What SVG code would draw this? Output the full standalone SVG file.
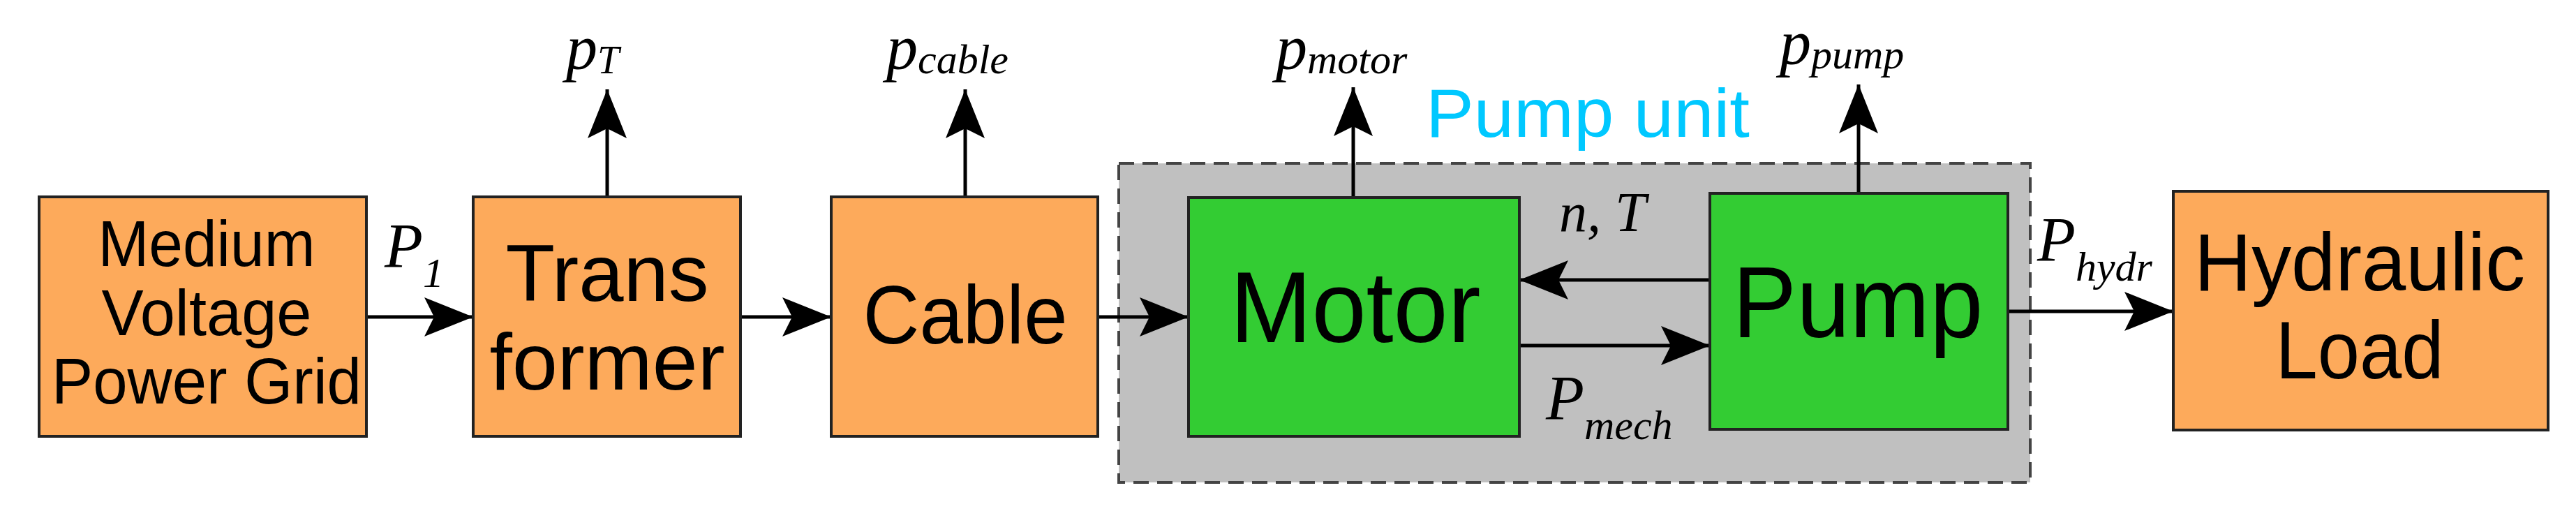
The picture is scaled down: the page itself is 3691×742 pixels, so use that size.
<svg xmlns="http://www.w3.org/2000/svg" width="3691" height="742" viewBox="0 0 3691 742">
<style>
.o{fill:#fdaa5b;stroke:#222;stroke-width:4}
.g{fill:#33cc33;stroke:#222;stroke-width:4}
.t{font-family:"Liberation Sans",Arial,sans-serif;fill:#000;text-anchor:middle}
.m{font-family:"Liberation Serif","Times New Roman",serif;font-style:italic;fill:#000}
.c{stroke:#000;stroke-width:5;fill:none;marker-end:url(#ah)}
</style>
<defs>
<marker id="ah" markerUnits="userSpaceOnUse" markerWidth="72" markerHeight="60" refX="70" refY="30" orient="auto">
<path d="M0,2 L70,30 L0,58 L14,30 Z" fill="#000"/>
</marker>
</defs>
<g id="pumpunit">
<rect x="1603" y="234" width="1306" height="457" fill="#c0c0c0" stroke="#444" stroke-width="4" stroke-dasharray="22,12"/>
<text class="t" x="2275" y="196" font-size="98" fill="#00c8ff" style="fill:#00c8ff" textLength="464" lengthAdjust="spacingAndGlyphs">Pump unit</text>
</g>
<g id="connectors">
<line class="c" x1="525" y1="454" x2="678" y2="454"/>
<line class="c" x1="1061" y1="454" x2="1191" y2="454"/>
<line class="c" x1="1573" y1="454" x2="1703" y2="454"/>
<line class="c" x1="870" y1="282" x2="870" y2="128"/>
<line class="c" x1="1383" y1="282" x2="1383" y2="128"/>
<line class="c" x1="1939" y1="283" x2="1939" y2="125"/>
<line class="c" x1="2663" y1="277" x2="2663" y2="121"/>
<line class="c" x1="2450" y1="401" x2="2177" y2="401"/>
<line class="c" x1="2177" y1="495" x2="2450" y2="495"/>
<line class="c" x1="2877" y1="446" x2="3114" y2="446"/>
</g>
<g id="grid">
<rect class="o" x="56" y="282" width="469" height="343"/>
<text class="t" x="296" y="381" font-size="92" textLength="311" lengthAdjust="spacingAndGlyphs">Medium</text>
<text class="t" x="296" y="480" font-size="92" textLength="301" lengthAdjust="spacingAndGlyphs">Voltage</text>
<text class="t" x="296" y="578" font-size="92" textLength="444" lengthAdjust="spacingAndGlyphs">Power Grid</text>
</g>
<g id="transformer">
<rect class="o" x="678" y="282" width="383" height="343"/>
<text class="t" x="870" y="431" font-size="115" textLength="291" lengthAdjust="spacingAndGlyphs">Trans</text>
<text class="t" x="870" y="558" font-size="115" textLength="337" lengthAdjust="spacingAndGlyphs">former</text>
</g>
<g id="cable">
<rect class="o" x="1191" y="282" width="382" height="343"/>
<text class="t" x="1383" y="492" font-size="118" textLength="293" lengthAdjust="spacingAndGlyphs">Cable</text>
</g>
<g id="motor">
<rect class="g" x="1703" y="283" width="474" height="342"/>
<text class="t" x="1942" y="490" font-size="145" textLength="359" lengthAdjust="spacingAndGlyphs">Motor</text>
</g>
<g id="pump">
<rect class="g" x="2450" y="277" width="427" height="338"/>
<text class="t" x="2662" y="483" font-size="145" textLength="359" lengthAdjust="spacingAndGlyphs">Pump</text>
</g>
<g id="load">
<rect class="o" x="3114" y="274" width="537" height="342"/>
<text class="t" x="3381" y="416" font-size="117" textLength="474" lengthAdjust="spacingAndGlyphs">Hydraulic</text>
<text class="t" x="3381" y="542" font-size="117" textLength="241" lengthAdjust="spacingAndGlyphs">Load</text>
</g>
<g id="labels">
<text class="m" x="551" y="383" font-size="90">P<tspan font-size="60" dy="28">1</tspan></text>
<text class="m" x="811" y="99" font-size="90">p<tspan font-size="56" dy="6">T</tspan></text>
<text class="m" x="1270" y="99" font-size="90">p<tspan font-size="60" dy="6">cable</tspan></text>
<text class="m" x="1828" y="99" font-size="90">p<tspan font-size="60" dy="6">motor</tspan></text>
<text class="m" x="2550" y="92" font-size="90">p<tspan font-size="60" dy="6">pump</tspan></text>
<text class="m" x="2234" y="331" font-size="80">n, T</text>
<text class="m" x="2215" y="601" font-size="90">P<tspan font-size="60" dy="28">mech</tspan></text>
<text class="m" x="2919" y="374" font-size="90">P<tspan font-size="60" dy="28">hydr</tspan></text>
</g>
</svg>
